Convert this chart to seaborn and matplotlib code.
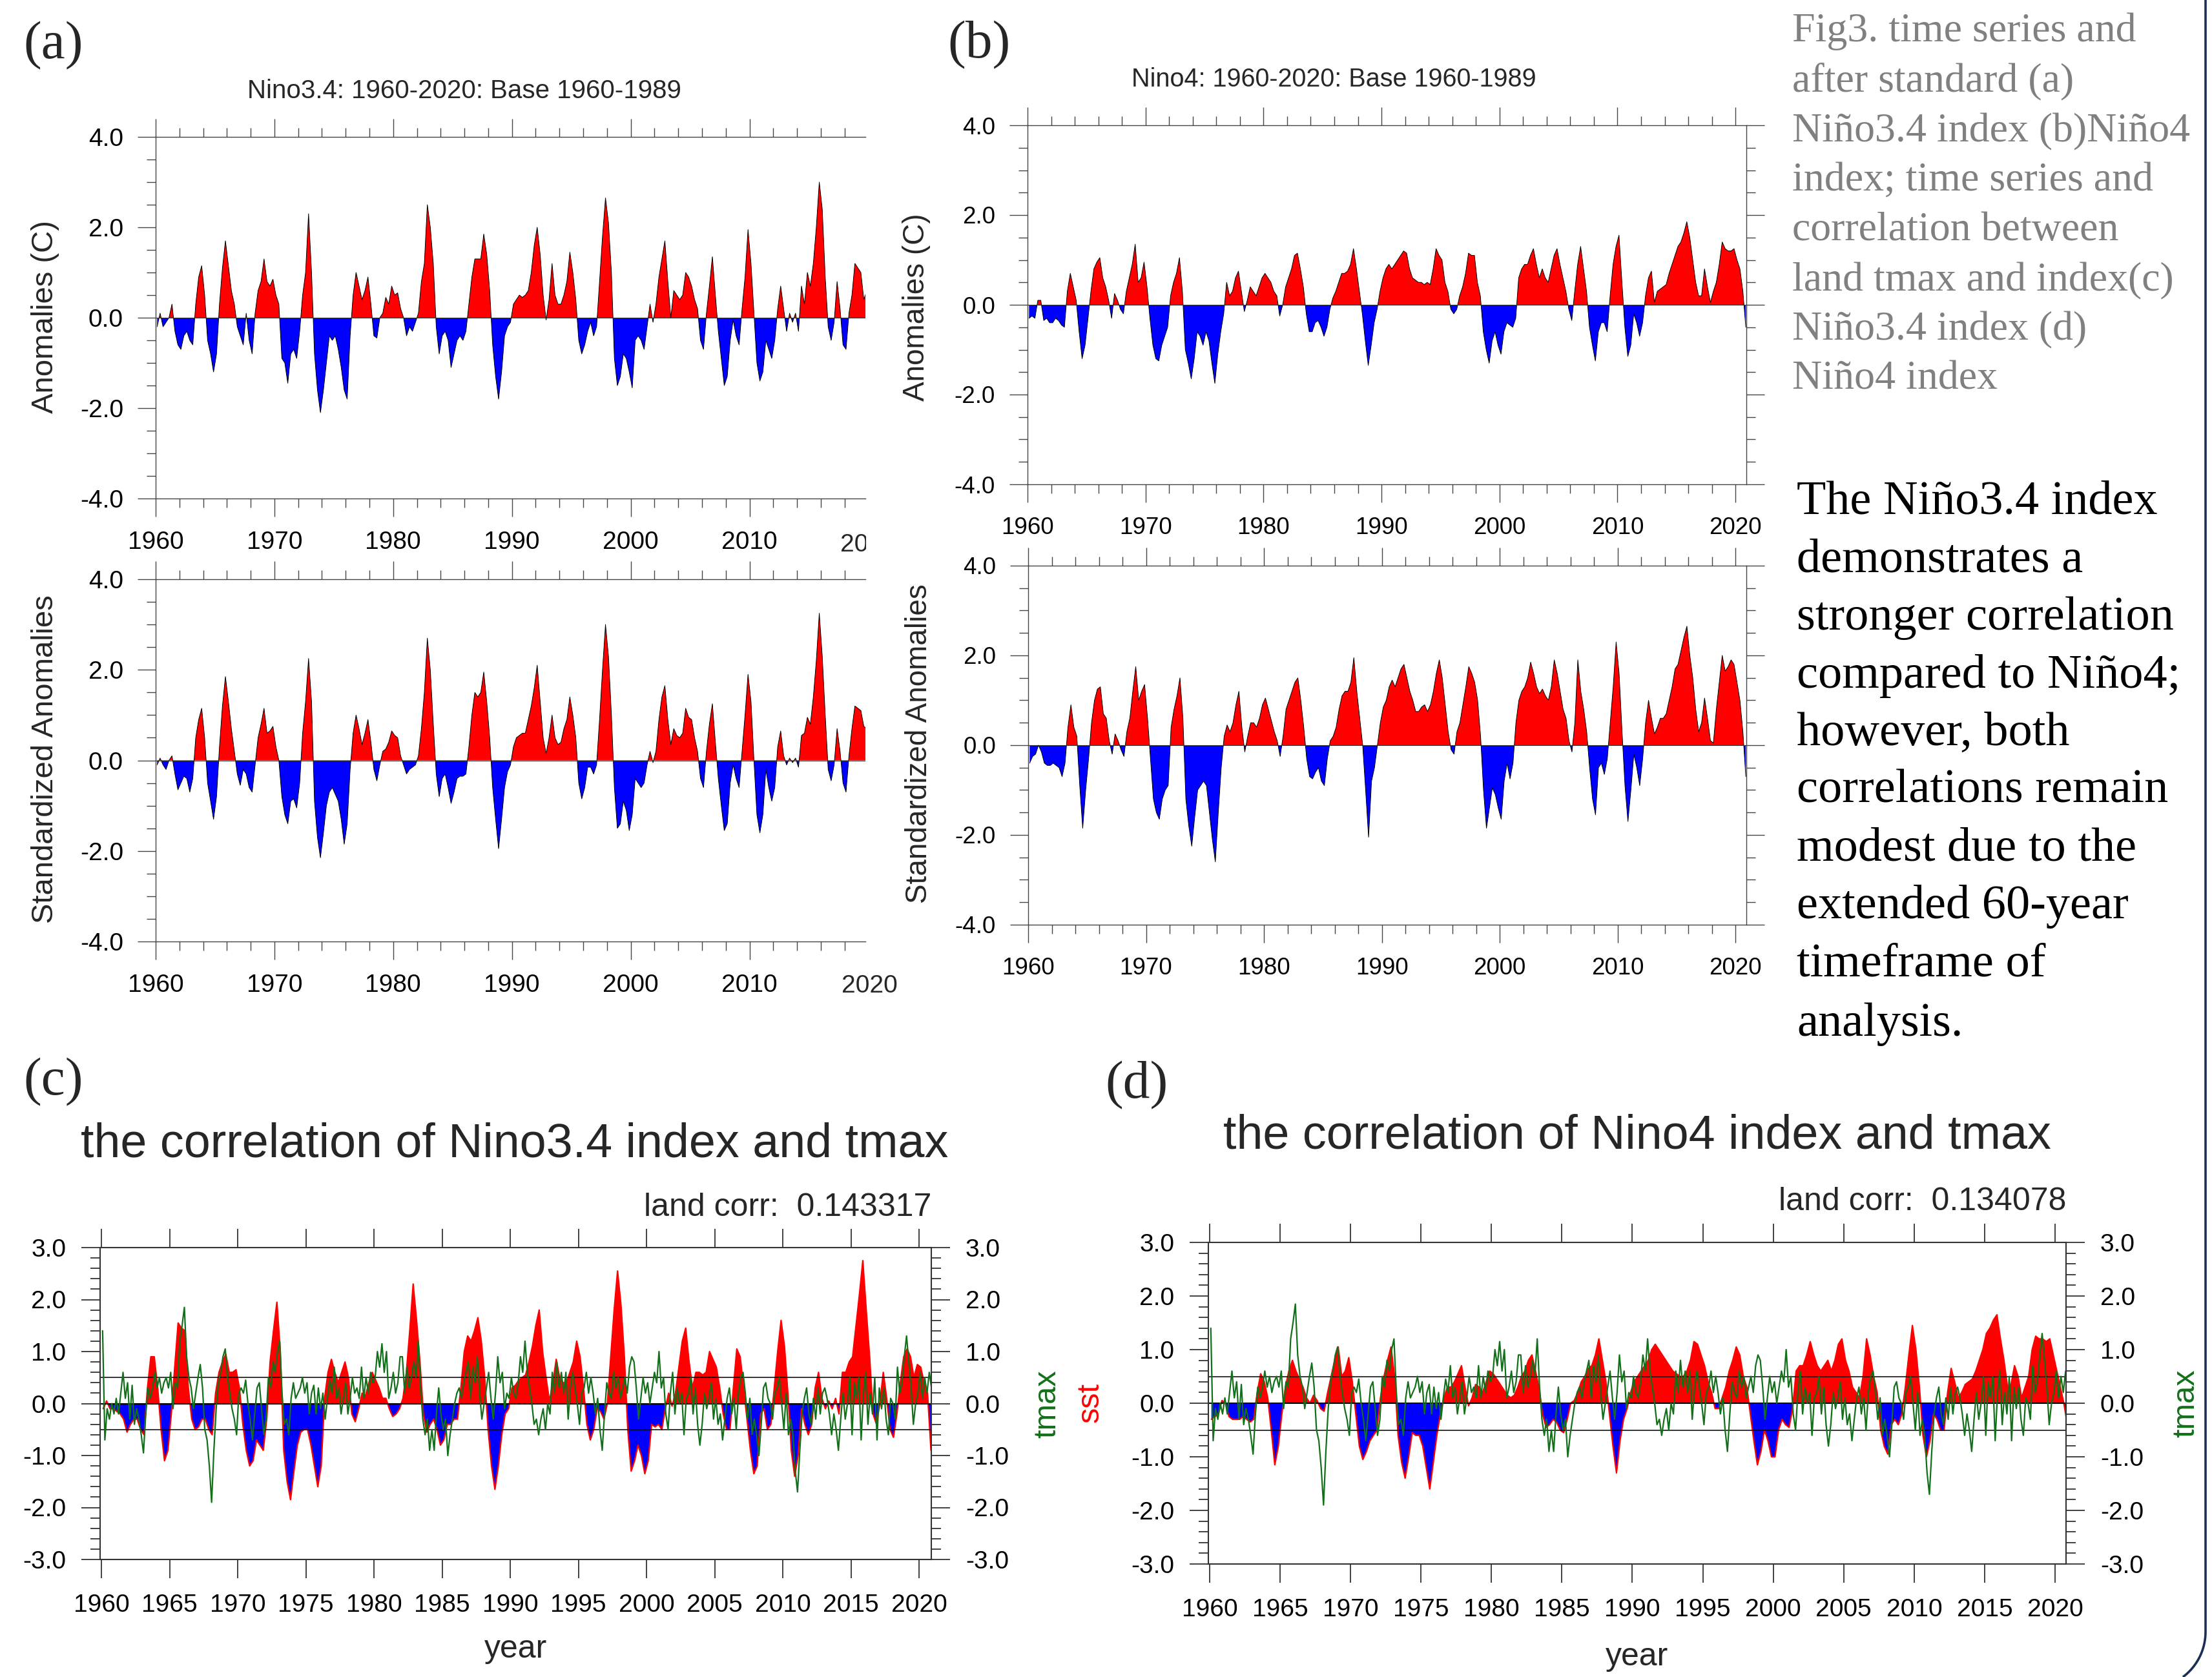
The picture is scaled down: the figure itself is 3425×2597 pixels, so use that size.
import numpy as np
import matplotlib
matplotlib.use("Agg")
import matplotlib.pyplot as plt
import seaborn as sns
from matplotlib.lines import Line2D
from matplotlib.transforms import Bbox, TransformedBbox

# ---- data (quarterly samples, 1960-2020) ----
start_year = 1960
n_years = 61

nino34_anom = [
    -0.2, 0.1, -0.2, -0.1,    0.0, 0.3, -0.3, -0.6,      # 1960-61
    -0.7, -0.4, -0.3, -0.5,   -0.6, 0.3, 0.9, 1.15,      # 1962-63
    0.5, -0.5, -0.8, -1.2,    -0.8, 0.3, 1.1, 1.7,       # 1964-65
    1.15, 0.6, 0.3, -0.2,     -0.4, -0.6, 0.1, -0.5,     # 1966-67
    -0.8, 0.1, 0.6, 0.8,      1.3, 0.8, 0.7, 0.85,       # 1968-69
    0.5, 0.3, -0.9, -1.0,     -1.45, -0.8, -0.7, -0.9,   # 1970-71
    -0.3, 0.5, 1.0, 2.3,      1.0, -0.8, -1.6, -2.1,     # 1972-73
    -1.6, -1.0, -0.4, -0.5,   -0.4, -0.7, -1.1, -1.6,    # 1974-75
    -1.8, -0.4, 0.5, 1.0,     0.7, 0.4, 0.6, 0.9,        # 1976-77
    0.3, -0.4, -0.45, 0.0,    0.1, 0.45, 0.3, 0.7,       # 1978-79
    0.5, 0.55, 0.2, 0.0,      -0.4, -0.2, -0.3, -0.1,    # 1980-81
    0.1, 0.8, 1.2, 2.5,       2.0, 1.2, -0.2, -0.8,      # 1982-83
    -0.4, -0.3, -0.5, -1.1,   -0.8, -0.5, -0.4, -0.5,    # 1984-85
    -0.3, 0.3, 0.9, 1.3,      1.3, 1.3, 1.85, 1.4,       # 1986-87
    0.6, -0.6, -1.3, -1.8,    -1.2, -0.4, -0.2, -0.1,    # 1988-89
    0.3, 0.4, 0.5, 0.45,      0.5, 0.6, 1.0, 1.6,        # 1990-91
    2.0, 1.4, 0.5, -0.05,     0.4, 1.2, 0.5, 0.3,        # 1992-93
    0.3, 0.5, 0.8, 1.45,      1.0, 0.4, -0.5, -0.8,      # 1994-95
    -0.6, -0.3, -0.1, -0.4,   -0.2, 0.8, 1.8, 2.65,      # 1996-97
    2.1, 1.0, -0.9, -1.5,     -1.3, -0.8, -0.9, -1.2,    # 1998-99
    -1.55, -0.5, -0.4, -0.5,  -0.7, -0.2, 0.3, -0.1,     # 2000-01
    0.3, 0.9, 1.3, 1.7,       0.8, 0.0, 0.6, 0.5,        # 2002-03
    0.4, 0.5, 1.0, 0.9,       0.7, 0.4, 0.2, -0.5,       # 2004-05
    -0.7, 0.1, 0.7, 1.35,     0.5, -0.3, -0.9, -1.5,     # 2006-07
    -1.3, -0.5, -0.05, -0.4,  -0.6, 0.2, 0.9, 1.95,      # 2008-09
    1.2, 0.1, -1.0, -1.4,     -1.2, -0.5, -0.7, -0.9,    # 2010-11
    -0.5, 0.2, 0.7, 0.2,      -0.3, 0.1, -0.1, 0.1,      # 2012-13
    -0.3, 0.7, 0.3, 1.0,      0.7, 1.2, 2.0, 3.0,        # 2014-15
    2.4, 0.9, -0.2, -0.5,     -0.1, 0.8, 0.2, -0.6,      # 2016-17
    -0.7, 0.1, 0.5, 1.2,      1.1, 1.0, 0.4, 0.6,        # 2018-19
    0.5, 0.1, -0.5, -1.1,                                # 2020
]

nino34_std = [
    -0.1, 0.05, -0.1, -0.2,   0.0, 0.1, -0.3, -0.65,     # 1960-61
    -0.5, -0.35, -0.4, -0.7,  -0.4, 0.5, 0.9, 1.15,      # 1962-63
    0.5, -0.5, -0.9, -1.3,    -0.8, 0.3, 1.2, 1.85,      # 1964-65
    1.3, 0.7, 0.2, -0.3,      -0.55, -0.2, -0.3, -0.6,   # 1966-67
    -0.7, -0.1, 0.5, 0.8,     1.15, 0.6, 0.65, 0.75,     # 1968-69
    0.3, 0.0, -0.8, -1.2,     -1.4, -0.9, -0.85, -1.05,  # 1970-71
    -0.5, 0.6, 1.3, 2.25,     1.3, -0.9, -1.7, -2.15,    # 1972-73
    -1.6, -1.0, -0.7, -0.6,   -0.75, -0.9, -1.3, -1.85,  # 1974-75
    -1.4, -0.2, 0.6, 1.0,     0.7, 0.35, 0.6, 0.9,       # 1976-77
    0.4, -0.2, -0.45, -0.1,   0.2, 0.25, 0.4, 0.65,      # 1978-79
    0.55, 0.5, 0.1, -0.1,     -0.3, -0.2, -0.15, -0.1,   # 1980-81
    0.1, 0.7, 1.5, 2.7,       2.0, 0.8, -0.3, -0.8,      # 1982-83
    -0.4, -0.3, -0.6, -0.95,  -0.7, -0.4, -0.35, -0.35,  # 1984-85
    -0.3, 0.3, 1.0, 1.5,      1.4, 1.5, 1.95, 1.3,       # 1986-87
    0.5, -0.6, -1.3, -1.95,   -1.3, -0.6, -0.25, -0.1,   # 1988-89
    0.3, 0.5, 0.55, 0.6,      0.6, 0.9, 1.2, 1.6,        # 1990-91
    2.1, 1.3, 0.5, 0.15,      0.5, 1.0, 0.5, 0.35,       # 1992-93
    0.4, 0.7, 0.9, 1.4,       1.0, 0.5, -0.5, -0.85,     # 1994-95
    -0.6, -0.15, -0.15, -0.3, -0.1, 0.9, 2.0, 3.0,       # 1996-97
    2.3, 1.0, -0.6, -1.5,     -1.4, -0.9, -1.1, -1.55,   # 1998-99
    -1.2, -0.4, -0.5, -0.6,   -0.5, -0.1, 0.2, -0.05,    # 2000-01
    0.2, 0.9, 1.4, 1.65,      0.9, 0.35, 0.7, 0.55,      # 2002-03
    0.5, 0.6, 1.15, 0.95,     0.9, 0.5, 0.2, -0.4,       # 2004-05
    -0.6, 0.2, 0.8, 1.25,     0.4, -0.4, -1.0, -1.55,    # 2006-07
    -1.4, -0.5, -0.1, -0.4,   -0.6, 0.2, 1.0, 1.9,       # 2008-09
    1.3, 0.0, -1.2, -1.6,     -1.2, -0.2, -0.6, -0.9,    # 2010-11
    -0.6, 0.3, 0.65, 0.1,     -0.1, 0.05, -0.05, 0.05,   # 2012-13
    -0.15, 0.55, 0.6, 0.95,   0.8, 1.4, 2.2, 3.25,       # 2014-15
    2.3, 1.0, -0.2, -0.45,    -0.1, 0.7, 0.2, -0.5,      # 2016-17
    -0.7, 0.1, 0.7, 1.2,      1.15, 1.1, 0.75, 0.7,      # 2018-19
    0.6, 0.1, -0.5, -1.0,                                # 2020
]

nino4_anom = [
    -0.3, -0.25, -0.3, 0.1,   0.1, -0.35, -0.3, -0.4,    # 1960-61
    -0.4, -0.3, -0.35, -0.45, -0.5, 0.3, 0.7, 0.4,       # 1962-63
    0.1, -0.6, -1.2, -0.9,    -0.3, 0.3, 0.8, 0.95,      # 1964-65
    1.05, 0.6, 0.4, 0.1,      -0.3, 0.25, 0.1, -0.1,     # 1966-67
    -0.2, 0.3, 0.6, 0.9,      1.35, 0.5, 0.6, 0.95,      # 1968-69
    0.4, -0.3, -0.9, -1.2,    -1.25, -0.9, -0.7, -0.5,   # 1970-71
    0.2, 0.5, 0.7, 1.05,      0.3, -1.0, -1.3, -1.65,    # 1972-73
    -1.2, -0.6, -0.7, -0.9,   -0.6, -0.8, -1.3, -1.75,   # 1974-75
    -1.1, -0.6, -0.2, 0.5,    0.2, 0.3, 0.6, 0.75,       # 1976-77
    0.3, -0.15, 0.1, 0.4,     0.3, 0.2, 0.4, 0.6,        # 1978-79
    0.7, 0.6, 0.5, 0.3,       0.2, -0.25, 0.0, 0.4,      # 1980-81
    0.6, 0.8, 1.1, 1.15,      0.8, 0.4, -0.2, -0.6,      # 1982-83
    -0.6, -0.4, -0.35, -0.5,  -0.7, -0.5, -0.1, 0.15,    # 1984-85
    0.3, 0.5, 0.7, 0.7,       0.75, 0.9, 1.25, 0.8,      # 1986-87
    0.3, -0.2, -0.8, -1.35,   -0.9, -0.4, -0.1, 0.3,     # 1988-89
    0.6, 0.8, 0.9, 0.8,       0.9, 1.0, 1.1, 1.2,        # 1990-91
    1.15, 0.8, 0.6, 0.55,     0.5, 0.5, 0.45, 0.5,       # 1992-93
    0.45, 0.8, 1.25, 1.1,     1.0, 0.5, 0.3, -0.1,       # 1994-95
    -0.2, -0.1, 0.2, 0.4,     0.7, 1.15, 1.1, 1.1,       # 1996-97
    0.5, 0.2, -0.6, -1.0,     -1.3, -0.8, -0.6, -0.9,    # 1998-99
    -1.1, -0.6, -0.4, -0.45,  -0.5, -0.3, 0.6, 0.8,      # 2000-01
    0.9, 0.9, 1.1, 1.25,      0.9, 0.6, 0.8, 0.6,        # 2002-03
    0.5, 0.8, 1.1, 1.25,      0.9, 0.6, 0.3, -0.1,       # 2004-05
    -0.35, 0.3, 0.9, 1.3,     0.8, 0.3, -0.5, -0.9,      # 2006-07
    -1.25, -0.6, -0.4, -0.4,  -0.6, 0.2, 0.9, 1.3,       # 2008-09
    1.55, 0.5, -0.5, -1.15,   -0.9, -0.2, -0.4, -0.7,    # 2010-11
    -0.4, 0.2, 0.6, 0.75,     0.05, 0.3, 0.35, 0.4,      # 2012-13
    0.45, 0.7, 0.9, 1.1,      1.3, 1.4, 1.6, 1.85,       # 2014-15
    1.5, 1.0, 0.5, 0.2,       0.2, 0.8, 0.4, 0.05,       # 2016-17
    0.3, 0.5, 0.9, 1.4,       1.25, 1.2, 1.2, 1.25,      # 2018-19
    1.0, 0.8, 0.3, -0.5,                                 # 2020
]

nino4_std = [
    -0.4, -0.25, -0.2, 0.0,   -0.15, -0.4, -0.45, -0.45, # 1960-61
    -0.4, -0.45, -0.5, -0.7,  -0.4, 0.4, 0.9, 0.4,       # 1962-63
    0.2, -0.9, -1.85, -1.0,   -0.3, 0.5, 1.0, 1.25,      # 1964-65
    1.3, 0.7, 0.6, 0.1,       -0.2, 0.25, 0.1, -0.1,     # 1966-67
    -0.25, 0.3, 0.6, 1.2,     1.75, 1.0, 1.2, 1.35,      # 1968-69
    0.6, -0.3, -1.2, -1.5,    -1.65, -1.2, -1.0, -0.9,   # 1970-71
    0.4, 0.8, 1.1, 1.5,       0.6, -1.2, -1.8, -2.25,    # 1972-73
    -1.6, -1.0, -0.9, -0.8,   -0.9, -1.5, -2.1, -2.6,    # 1974-75
    -1.5, -0.5, 0.2, 0.45,    0.3, 0.5, 0.9, 1.2,        # 1976-77
    0.4, -0.15, 0.2, 0.5,     0.5, 0.4, 0.6, 0.9,        # 1978-79
    1.05, 0.8, 0.55, 0.3,     0.1, -0.25, 0.2, 0.8,      # 1980-81
    1.0, 1.2, 1.4, 1.5,       1.0, 0.4, -0.3, -0.7,      # 1982-83
    -0.75, -0.6, -0.5, -0.8,  -0.9, -0.3, 0.1, 0.2,      # 1984-85
    0.4, 0.8, 1.1, 1.2,       1.2, 1.4, 1.95, 1.2,       # 1986-87
    0.6, 0.0, -1.0, -2.05,    -0.8, -0.5, 0.0, 0.5,      # 1988-89
    0.85, 1.0, 1.3, 1.45,     1.3, 1.5, 1.7, 1.8,        # 1990-91
    1.5, 1.2, 1.0, 0.75,      0.75, 0.85, 0.9, 0.75,     # 1992-93
    0.9, 1.2, 1.6, 1.9,       1.5, 0.9, 0.3, -0.1,       # 1994-95
    -0.2, 0.3, 0.5, 0.9,      1.3, 1.75, 1.6, 1.4,       # 1996-97
    1.0, 0.2, -1.0, -1.85,    -1.4, -0.95, -1.1, -1.4,   # 1998-99
    -1.65, -0.8, -0.4, -0.75, -0.4, 0.5, 1.0, 1.2,       # 2000-01
    1.3, 1.5, 1.85, 1.6,      1.3, 1.15, 1.25, 1.1,      # 2002-03
    1.0, 1.3, 1.9, 1.6,       1.2, 0.8, 0.6, 0.1,        # 2004-05
    -0.15, 0.5, 1.9, 1.2,     0.8, 0.3, -0.5, -1.2,      # 2006-07
    -1.55, -0.5, -0.4, -0.65, -0.3, 0.5, 1.3, 2.3,       # 2008-09
    1.6, 0.3, -0.9, -1.7,     -1.0, -0.2, -0.5, -0.9,    # 2010-11
    -0.3, 0.5, 1.0, 0.6,      0.25, 0.4, 0.6, 0.6,       # 2012-13
    0.7, 1.0, 1.3, 1.7,       1.8, 2.1, 2.4, 2.65,       # 2014-15
    2.0, 1.5, 0.8, 0.3,       0.5, 1.05, 0.6, 0.1,       # 2016-17
    0.05, 0.8, 1.4, 2.0,      1.65, 1.75, 1.9, 1.8,      # 2018-19
    1.4, 1.0, 0.3, -0.7,                                 # 2020
]

sst_nino34 = [
    -0.1, 0.05, -0.1, -0.1,   -0.15, -0.2, -0.3, -0.55,  # 1960-61
    -0.4, -0.3, -0.3, -0.5,   -0.6, 0.3, 0.9, 0.9,       # 1962-63
    0.3, -0.5, -1.1, -0.9,    -0.2, 0.7, 1.55, 1.45,     # 1964-65
    1.4, 0.3, -0.3, -0.5,     -0.45, -0.3, -0.3, -0.5,   # 1966-67
    -0.6, 0.2, 0.6, 0.8,      0.95, 0.6, 0.6, 0.65,      # 1968-69
    0.3, -0.4, -0.9, -1.2,    -1.1, -0.7, -0.8, -0.9,    # 1970-71
    -0.3, 0.8, 1.4, 1.95,     1.0, -0.9, -1.5, -1.85,    # 1972-73
    -1.3, -0.8, -0.55, -0.5,  -0.5, -0.8, -1.2, -1.6,    # 1974-75
    -1.2, 0.1, 0.6, 0.85,     0.6, 0.4, 0.6, 0.8,        # 1976-77
    0.5, -0.2, -0.35, -0.1,   0.2, 0.15, 0.4, 0.6,       # 1978-79
    0.45, 0.3, 0.1, 0.1,      -0.1, -0.25, -0.2, -0.1,   # 1980-81
    0.1, 0.6, 1.4, 2.3,       1.6, 0.8, -0.2, -0.55,     # 1982-83
    -0.4, -0.3, -0.5, -0.8,   -0.7, -0.4, -0.4, -0.3,    # 1984-85
    -0.3, 0.3, 1.0, 1.3,      1.2, 1.4, 1.65, 1.2,       # 1986-87
    0.5, -0.5, -1.2, -1.65,   -1.2, -0.6, -0.2, -0.1,    # 1988-89
    0.3, 0.35, 0.45, 0.5,     0.55, 0.8, 1.1, 1.5,       # 1990-91
    1.8, 1.0, 0.5, 0.05,      0.4, 0.85, 0.5, 0.4,       # 1992-93
    0.4, 0.6, 0.8, 1.2,       0.9, 0.3, -0.4, -0.7,      # 1994-95
    -0.5, -0.1, -0.15, -0.3,  0.0, 0.9, 1.8, 2.55,       # 1996-97
    1.9, 0.9, -0.5, -1.3,     -1.1, -0.8, -1.0, -1.35,   # 1998-99
    -1.1, -0.4, -0.45, -0.4,  -0.5, -0.1, 0.2, -0.05,    # 2000-01
    0.2, 0.7, 1.2, 1.45,      0.8, 0.3, 0.6, 0.6,        # 2002-03
    0.55, 0.6, 1.0, 0.85,     0.7, 0.3, -0.2, -0.5,      # 2004-05
    -0.5, 0.3, 1.05, 0.9,     0.3, -0.3, -0.9, -1.35,    # 2006-07
    -1.2, -0.2, -0.1, -0.5,   -0.4, 0.3, 1.0, 1.6,       # 2008-09
    1.1, 0.2, -0.9, -1.4,     -1.0, -0.1, -0.4, -0.6,    # 2010-11
    -0.4, 0.3, 0.6, 0.1,      -0.1, 0.05, -0.1, 0.1,     # 2012-13
    -0.2, 0.6, 0.6, 0.8,      0.9, 1.5, 2.1, 2.75,       # 2014-15
    1.8, 0.9, -0.2, -0.4,     0.0, 0.6, 0.1, -0.5,       # 2016-17
    -0.65, -0.2, 0.4, 0.9,    1.05, 0.9, 0.5, 0.75,      # 2018-19
    0.7, 0.4, 0.2, -0.9,                                 # 2020
]

sst_nino4 = [
    -0.3, -0.25, -0.2, 0.05,  0.0, -0.25, -0.3, -0.3,    # 1960-61
    -0.3, -0.25, -0.3, -0.35, -0.3, 0.2, 0.55, 0.4,      # 1962-63
    0.1, -0.5, -1.15, -0.8,   -0.2, 0.3, 0.6, 0.8,       # 1964-65
    0.6, 0.45, 0.3, 0.1,      0.0, 0.15, 0.05, -0.1,     # 1966-67
    -0.15, 0.2, 0.5, 0.8,     1.05, 0.5, 0.6, 0.85,      # 1968-69
    0.4, -0.2, -0.8, -1.05,   -0.9, -0.7, -0.6, -0.5,    # 1970-71
    0.1, 0.5, 0.8, 1.05,      0.5, -0.6, -1.1, -1.4,     # 1972-73
    -1.0, -0.55, -0.6, -0.6,  -0.8, -1.2, -1.6, -1.1,    # 1974-75
    -0.6, -0.2, 0.1, 0.3,     0.3, 0.4, 0.55, 0.7,       # 1976-77
    0.3, -0.05, 0.1, 0.35,    0.3, 0.2, 0.4, 0.6,        # 1978-79
    0.55, 0.45, 0.35, 0.25,   0.15, 0.1, 0.15, 0.3,      # 1980-81
    0.5, 0.6, 0.8, 0.9,       0.6, 0.3, -0.2, -0.45,     # 1982-83
    -0.4, -0.3, -0.35, -0.5,  -0.55, -0.3, 0.0, 0.05,    # 1984-85
    0.2, 0.4, 0.5, 0.65,      0.7, 0.9, 1.2, 0.8,        # 1986-87
    0.4, -0.2, -0.8, -1.3,    -0.7, -0.3, -0.1, 0.2,     # 1988-89
    0.4, 0.5, 0.6, 0.7,       0.8, 1.0, 1.1, 1.0,        # 1990-91
    0.9, 0.8, 0.7, 0.6,       0.55, 0.5, 0.5, 0.6,       # 1992-93
    0.8, 1.15, 1.1, 0.9,      0.7, 0.4, 0.2, -0.1,       # 1994-95
    -0.1, 0.1, 0.3, 0.6,      0.8, 1.05, 0.9, 0.5,       # 1996-97
    0.3, -0.2, -0.7, -1.15,   -0.9, -0.5, -0.7, -1.0,    # 1998-99
    -1.0, -0.5, -0.3, -0.4,   -0.45, -0.1, 0.6, 0.7,     # 2000-01
    0.7, 0.9, 1.15, 0.9,      0.7, 0.6, 0.7, 0.8,        # 2002-03
    0.6, 0.8, 1.1, 1.2,       0.8, 0.6, 0.3, 0.2,        # 2004-05
    0.1, 0.5, 1.2, 0.9,       0.5, 0.2, -0.5, -0.8,      # 2006-07
    -0.95, -0.4, -0.3, -0.4,  -0.2, 0.3, 0.9, 1.45,      # 2008-09
    1.0, 0.3, -0.6, -1.0,     -0.7, -0.2, -0.3, -0.5,    # 2010-11
    -0.5, 0.2, 0.65, 0.4,     0.1, 0.2, 0.35, 0.4,       # 2012-13
    0.45, 0.6, 0.8, 1.0,      1.3, 1.4, 1.55, 1.65,      # 2014-15
    1.2, 0.8, 0.3, 0.35,      0.7, 0.5, 0.1, 0.3,        # 2016-17
    0.5, 1.0, 1.25, 1.2,      1.2, 1.15, 1.2, 0.9,       # 2018-19
    0.6, 0.3, 0.0, -0.4,                                 # 2020
]

# land tmax, standardized (bi-monthly samples)
tmax = [
    1.4, -0.7, -0.1, -0.3, 0.0, -0.2,      0.1, -0.2, 0.2, 0.6, 0.1, 0.4,       # 1960-61
    -0.3, 0.35, -0.4, -0.1, -0.3, -0.6,    -0.95, -0.2, 0.3, 0.1, 0.3, 0.6,     # 1962-63
    0.3, 0.5, 0.2, 0.4, 0.5, 0.3,          0.6, -0.1, 0.4, 0.3, 1.2, 1.5,       # 1964-65
    1.85, 0.9, 0.5, 0.3, -0.1, 0.2,        0.5, 0.75, 0.3, -0.5, -0.7, -1.2,    # 1966-67
    -1.9, -0.9, -0.1, 0.4, 0.6, 0.9,       1.05, 0.5, 0.2, -0.1, -0.3, -0.6,    # 1968-69
    0.2, 0.3, 0.2, 0.45, 0.0, -0.3,        -0.7, -0.2, 0.3, 0.4, -0.1, -0.6,    # 1970-71
    -0.3, 0.5, 0.3, 0.8, 0.6, 1.0,         1.2, 0.2, -0.4, -0.3, -0.6, 0.1,     # 1972-73
    0.4, 0.1, 0.2, 0.3, 0.5, 0.2,          0.4, -0.2, 0.2, 0.35, -0.2, 0.3,     # 1974-75
    -0.1, 0.2, -0.3, 0.1, 0.45, 0.2,       0.7, 0.1, 0.3, -0.2, 0.1, 0.4,       # 1976-77
    -0.2, 0.1, 0.5, 0.2, 0.3, 0.1,         0.7, 0.1, 0.5, 0.2, 0.6, 0.4,        # 1978-79
    0.5, 1.0, 0.7, 1.15, 0.6, 1.0,         0.1, 0.3, 0.6, 0.2, 0.4, 0.9,        # 1980-81
    0.9, 0.2, 0.7, 0.3, 0.5, 0.8,          0.5, 1.2, 0.3, -0.3, -0.6, -0.3,     # 1982-83
    -0.9, -0.5, -0.9, -0.2, 0.3, -0.2,     -0.5, -0.3, -1.0, -0.6, -0.3, 0.0,   # 1984-85
    0.2, 0.3, 0.1, 0.4, 0.6, 0.8,          0.1, 0.7, 0.4, 0.9, 0.2, -0.3,       # 1986-87
    0.0, 0.3, 0.6, 0.1, -0.3, 0.2,         0.9, 0.4, 0.6, -0.1, 0.2, 0.1,       # 1988-89
    0.5, 0.2, 0.1, 0.4, 0.9, 0.6,          1.2, 0.6, 0.3, 0.0, -0.4, -0.3,      # 1990-91
    -0.6, -0.3, -0.1, -0.5, 0.0, -0.2,     0.6, 0.2, 0.8, 0.3, 0.6, 0.2,        # 1992-93
    0.6, -0.3, 0.3, 0.6, 0.3, 0.0,         -0.4, 0.2, 0.3, 0.6, 0.2, 0.5,       # 1994-95
    0.2, -0.2, 0.1, -0.5, -0.9, -0.2,      0.4, 0.2, 0.1, 0.6, 0.3, 0.5,        # 1996-97
    0.1, 0.3, 0.5, 0.2, 0.7, 0.9,          0.8, 0.3, -0.3, 0.1, 0.5, 0.2,       # 1998-99
    0.4, 0.0, 0.3, 0.6, 0.4, 1.0,          0.3, 0.5, -0.2, -0.5, 0.2, 0.6,      # 2000-01
    -0.2, 0.3, 0.0, 0.2, -0.6, 0.1,        0.2, 0.5, -0.2, 0.3, -0.4, -0.8,     # 2002-03
    -0.4, 0.2, -0.1, 0.1, 0.4, -0.3,       0.1, -0.4, -0.2, -0.7, -0.3, 0.1,    # 2004-05
    0.3, -0.2, 0.1, -0.5, 0.2, 0.5,        0.6, 0.2, -0.3, 0.1, -0.6, -0.3,     # 2006-07
    -0.6, -1.0, -0.4, 0.3, 0.4, 0.1,       0.0, -0.3, 0.2, 0.3, 0.5, 0.0,       # 2008-09
    -0.5, 0.2, -0.6, -0.3, -0.6, -1.3,     -1.7, -0.9, -0.2, 0.1, 0.3, -0.2,    # 2010-11
    -0.4, 0.1, -0.3, 0.3, -0.2, 0.2,       0.3, 0.1, -0.2, -0.6, -0.2, -0.5,    # 2012-13
    -0.9, -0.3, 0.2, -0.3, 0.0, 0.5,       -0.6, 0.4, 0.1, 0.5, -0.7, 0.2,      # 2014-15
    0.6, -0.4, 0.2, -0.2, 0.5, -0.7,       0.3, -0.1, 0.3, -0.3, -0.6, 0.1,     # 2016-17
    0.0, -0.3, 0.7, 0.2, 0.4, 0.9,         1.3, 0.8, 0.3, -0.4, 0.0, 0.2,       # 2018-19
    0.6, 0.1, 0.5, 0.2, 0.6, 0.3,                                               # 2020
]

corr_nino34 = "0.143317"
corr_nino4 = "0.134078"

# sample times (decimal years)
t_q = start_year + (np.arange(n_years * 4) + 0.5) / 4
t_b = start_year + (np.arange(n_years * 6) + 0.5) / 6

# ---- figure ----
sns.set_theme(style="white")
plt.rcParams['font.family'] = ['Liberation Sans', 'DejaVu Sans']
plt.rcParams['axes.unicode_minus'] = False

W, H = 3425, 2597
fig = plt.figure(figsize=(W / 100, H / 100), dpi=100)
fig.patch.set_facecolor('white')


def fx(px):
    return px / W


def fy(py):
    return 1 - py / H


def box(left, top, right, bottom):
    return [fx(left), fy(bottom), (right - left) / W, (bottom - top) / H]


SERIF = ['Liberation Serif', 'DejaVu Serif']


def anomaly_panel(rect, v, xmax, right_spine, fs):
    ax = fig.add_axes(rect)
    v = np.asarray(v)
    ax.fill_between(t_q, v, 0, where=v >= 0, interpolate=True, color='red', lw=0)
    ax.fill_between(t_q, v, 0, where=v <= 0, interpolate=True, color='blue', lw=0)
    sns.lineplot(x=t_q, y=v, ax=ax, color='black', lw=0.7)
    ax.axhline(0, color='#333333', lw=0.8)
    ax.set_xticks(np.arange(1960, 2021, 10))
    ax.set_xticks(np.arange(1960, 2021, 2), minor=True)
    ax.set_yticks([-4, -2, 0, 2, 4])
    ax.set_yticks(np.arange(-4, 4.01, 0.5), minor=True)
    # limits after the ticks, so the cropped panel keeps its range
    ax.set_xlim(1960, xmax)
    ax.set_ylim(-4, 4)
    ax.yaxis.set_major_formatter('{x:.1f}')
    ax.tick_params(which='both', direction='out', top=True, bottom=True, left=True,
                   right=right_spine, color='#444444', width=1.0, labelsize=fs,
                   labelcolor='black')
    ax.tick_params(which='major', length=20, pad=16)
    ax.tick_params(which='minor', length=10)
    ax.spines['right'].set_visible(right_spine)
    for s in ax.spines.values():
        s.set_color('#444444')
        s.set_linewidth(1.0)
    ax.set_xlabel('')
    ax.set_ylabel('')
    ax.grid(False)
    return ax


def corr_panel(rect, xlim, sst):
    ax = fig.add_axes(rect)
    sst = np.asarray(sst)
    ax.fill_between(t_q, sst, 0, where=sst >= 0, interpolate=True, color='red', lw=0)
    ax.fill_between(t_q, sst, 0, where=sst <= 0, interpolate=True, color='blue', lw=0)
    sns.lineplot(x=t_q, y=sst, ax=ax, color='red', lw=1.6)
    for yv in (-0.5, 0.5):
        ax.axhline(yv, color='black', lw=1.1)
    ax.axhline(0, color='black', lw=1.5)
    sns.lineplot(x=t_b, y=tmax, ax=ax, color='#13701a', lw=1.6)
    ax.set_xticks(np.arange(1960, 2021, 5))
    ax.set_yticks(np.arange(-3, 3.01, 1))
    ax.set_yticks(np.arange(-3, 3.01, 0.2), minor=True)
    ax.set_xlim(*xlim)
    ax.set_ylim(-3, 3)
    ax.yaxis.set_major_formatter('{x:.1f}')
    ax.tick_params(which='both', direction='out', top=True, bottom=True, left=True,
                   right=True, labelright=True, color='#333333', width=1.3,
                   labelsize=28, labelcolor='black')
    ax.tick_params(which='major', length=21, pad=17)
    ax.tick_params(which='minor', length=11)
    ax.tick_params(axis='x', which='minor', top=False, bottom=False)
    for s in ax.spines.values():
        s.set_color('#333333')
        s.set_linewidth(1.5)
    ax.set_xlabel('')
    ax.set_ylabel('')
    ax.grid(False)
    return ax


# (a) Nino3.4 - the original panel is cropped on the right near 2019.8
ax_a1 = anomaly_panel(box(241, 212, 1340, 772), nino34_anom, 2019.76, False, 28)
ax_a2 = anomaly_panel(box(241, 897, 1340, 1458), nino34_std, 2019.76, False, 28)
# (b) Nino4
ax_b1 = anomaly_panel(box(1591, 194, 2704, 750), nino4_anom, 2020.92, True, 26.5)
ax_b2 = anomaly_panel(box(1592, 876, 2704, 1432), nino4_std, 2020.92, True, 26.5)
# (c), (d) correlation panels
ax_c = corr_panel(box(155, 1932, 1442, 2415), (1959.9, 2020.9), sst_nino34)
ax_d = corr_panel(box(1871, 1924, 3199, 2422), (1959.91, 2020.78), sst_nino4)

# cropped "2020" labels of panel (a)
cut = fig.text(fx(1344), fy(844), '2020', ha='center', va='center', fontsize=28)
cut.set_clip_box(TransformedBbox(Bbox([[0, 0], [fx(1341), 1]]), fig.transFigure))
cut.set_clip_on(True)
fig.text(fx(1346), fy(1527), '2020', ha='center', va='center', fontsize=28)

# panel letters
for lbl, x, y in [('(a)', 83, 71), ('(b)', 1516, 70), ('(c)', 83, 1676), ('(d)', 1760, 1681)]:
    fig.text(fx(x), fy(y), lbl, ha='center', va='center', fontsize=60, family=SERIF)

# titles and axis labels of (a), (b)
fig.text(fx(719), fy(141), 'Nino3.4: 1960-2020: Base 1960-1989', ha='center', va='center', fontsize=29)
fig.text(fx(2065), fy(123), 'Nino4: 1960-2020: Base 1960-1989', ha='center', va='center', fontsize=28.5)
fig.text(fx(70), fy(491), 'Anomalies (C)', rotation=90, ha='center', va='center', fontsize=34)
fig.text(fx(70), fy(1176), 'Standardized Anomalies', rotation=90, ha='center', va='center', fontsize=34)
fig.text(fx(1419), fy(476), 'Anomalies (C)', rotation=90, ha='center', va='center', fontsize=33)
fig.text(fx(1423), fy(1152), 'Standardized Anomalies', rotation=90, ha='center', va='center', fontsize=33)

# titles and labels of (c), (d)
fig.text(fx(797), fy(1772), 'the correlation of Nino3.4 index and tmax', ha='center', va='center', fontsize=53)
fig.text(fx(2535), fy(1759), 'the correlation of Nino4 index and tmax', ha='center', va='center', fontsize=53)
fig.text(fx(1442), fy(1870), 'land corr:  ' + corr_nino34, ha='right', va='center', fontsize=36)
fig.text(fx(3199), fy(1861), 'land corr:  ' + corr_nino4, ha='right', va='center', fontsize=36)
fig.text(fx(799), fy(2554), 'year', ha='center', va='center', fontsize=36)
fig.text(fx(2535), fy(2566), 'year', ha='center', va='center', fontsize=36)
fig.text(fx(1622), fy(2174), 'tmax', rotation=90, ha='center', va='center', fontsize=35, color='#13701a')
fig.text(fx(1688), fy(2172), 'sst', rotation=90, ha='center', va='center', fontsize=35, color='red')
fig.text(fx(3385), fy(2173), 'tmax', rotation=90, ha='center', va='center', fontsize=35, color='#13701a')

# caption text on the right
caption = ['Fig3. time series and', 'after standard (a)', 'Niño3.4 index (b)Niño4',
           'index; time series and', 'correlation between', 'land tmax and index(c)',
           'Niño3.4 index (d)', 'Niño4 index']
cap_y = [49, 126, 204, 280, 357, 435, 511, 587]
for line, y in zip(caption, cap_y):
    fig.text(fx(2775), fy(y), line, ha='left', va='center', fontsize=46, family=SERIF, color='#808080')

note = ['The Niño3.4 index', 'demonstrates a', 'stronger correlation', 'compared to Niño4;',
        'however, both', 'correlations remain', 'modest due to the', 'extended 60-year',
        'timeframe of', 'analysis.']
note_y = [778, 868, 957, 1047, 1136, 1225, 1315, 1404, 1494, 1586]
for line, y in zip(note, note_y):
    fig.text(fx(2782), fy(y), line, ha='left', va='center', fontsize=53.5, family=SERIF, color='black')

# slide border on the right edge
R = 87.5
ang = np.linspace(0, np.arcsin(0.8), 20)
bx = np.concatenate([[3415, 3415], 3415 - R + R * np.cos(ang)])
by = np.concatenate([[0, 2527], 2527 + R * np.sin(ang)])
fig.add_artist(Line2D(fx(bx), fy(by), transform=fig.transFigure, color='#1b2f55', lw=2.6,
                      solid_capstyle='butt'))

fig.savefig('out.png', dpi=100, facecolor='white')
